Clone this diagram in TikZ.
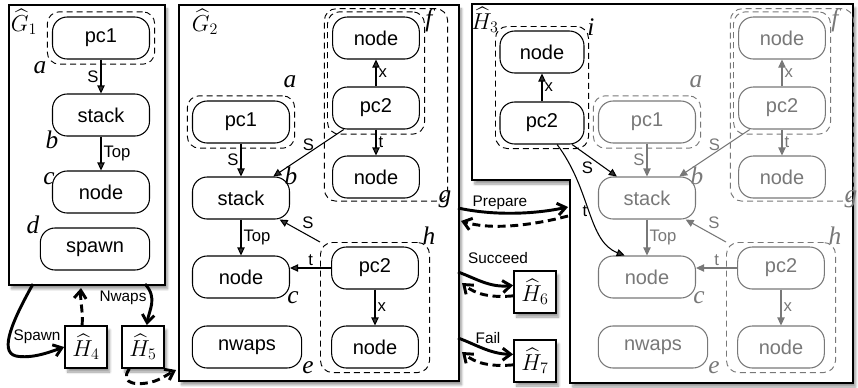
\documentclass[tikz,border=0pt]{standalone}
\usepackage{amsmath,amssymb}
\usepackage[no-math]{fontspec}
\newfontfamily\arialfont{Liberation Sans}
\newfontfamily\timesfont{Liberation Serif}
\usetikzlibrary{positioning,arrows.meta,calc,fit,shadows.blur}
\definecolor{ghost}{gray}{0.47}

\tikzset{
  obj/.style={draw, line width=0.8pt, rounded corners=11pt, minimum width=72.75pt,
    minimum height=31.5pt, inner sep=0pt, font=\arialfont\fontsize{15}{15}\selectfont},
  slim/.style={obj, minimum width=65pt},
  wide/.style={obj, minimum width=82pt},
  grp/.style={draw, dash pattern=on 4.5pt off 3pt, line width=0.7pt, rounded corners=9pt, inner sep=3.5pt},
  lbl/.style={font=\arialfont\fontsize{12.5}{12.5}\selectfont, inner sep=1.5pt},
  tag/.style={font=\timesfont\itshape\fontsize{19}{19}\selectfont, inner sep=0pt},
  gname/.style={font=\fontsize{17}{17}\selectfont, inner sep=0pt},
  panel/.style={draw, line width=1.3pt, fill=white,
    blur shadow={shadow xshift=2pt, shadow yshift=-3pt, shadow blur steps=8, shadow opacity=40}},
  hbox/.style={panel, minimum size=31.5pt, inner sep=0pt, font=\fontsize{17}{17}\selectfont},
  move/.style={line width=2.2pt, -{Straight Barb[length=6pt,width=9pt]}},
  back/.style={move, dash pattern=on 6pt off 3.5pt},
  trans/.style={font=\arialfont\fontsize{11.5}{11.5}\selectfont, inner sep=1pt},
}

% body of the second graph, drawn twice
\newcommand{\stackgraph}{%
  \node[obj] (pc1) at (241,122) {pc1};
  \node[obj] (stack) at (241,198) {stack};
  \node[obj] (nodeC) at (241,277) {node};
  \node[wide] (nwaps) at (247,347) {nwaps};
  \node[slim] (nodeF) at (376,38) {node};
  \node[slim] (pc2F) at (376,108) {pc2};
  \node[slim] (nodeG) at (376,177) {node};
  \node[slim] (pc2H) at (375,268) {pc2};
  \node[slim] (nodeH) at (375,347) {node};
  \node[grp, fit=(pc1)] (grpA) {};
  \node[grp, fit=(nodeF)(pc2F)] (grpF) {};
  \node[grp, fit={(grpF.north west)(nodeG.south)(445,196)}, inner sep=2pt] (grpG) {};
  \node[grp, fit=(pc2H)(nodeH), inner xsep=8pt, inner ysep=3pt] (grpH) {};
  \node[tag] (tagA) at (290,82) {a};
  \node[tag] (tagB) at (291,176) {b};
  \node[tag] (tagC) at (293,298) {c};
  \node[tag] (tagE) at (308,368) {e};
  \node[tag] (tagF) at (429,20) {f};
  \node[tag] (tagG) at (445,199) {g};
  \node[tag] (tagH) at (429,236) {h};
  \path[->]
  (pc1) edge node[lbl,left] {S} (stack)
  (stack) edge node[lbl,right] {Top} (nodeC)
  (pc2F) edge node[lbl,right] {x} (nodeF)
         edge node[lbl,right] {t} (nodeG)
         edge node[lbl,above] {S} (stack)
  (grpH.north west) edge node[lbl,above right] {S} (stack)
  (pc2H.west) edge node[lbl,above] {t} (pc2H.west -| nodeC.east)
  (pc2H) edge node[lbl,right] {x} (nodeH);
}

\begin{document}
\begin{tikzpicture}[x=0.75pt, y=-0.75pt, >={Triangle[length=6pt,width=5.5pt]}, line width=0.8pt]
\useasboundingbox (0,0) rectangle (858,387);

% panels
\node[panel, minimum width=117pt, minimum height=210pt, anchor=north west] (G1) at (8,4) {};
\node[panel, minimum width=210pt, minimum height=282pt, anchor=north west] (G2) at (178,4) {};
\draw[panel] (472,4) -- (853,4) -- (853,383) -- (570,383) -- (570,180) -- (472,180) -- cycle;

% first graph
\node[gname] (g1name) at (24,22) {$\widehat{G}_1$};
\node[obj] (g1pc) at (101,38) {pc1};
\node[obj] (g1stack) at (101,115) {stack};
\node[obj] (g1node) at (101,192) {node};
\node[wide] (g1spawn) at (95,249) {spawn};
\node[grp, fit=(g1pc)] (g1grp) {};
\node[tag] (g1a) at (40,68) {a};
\node[tag] (g1b) at (52,140) {b};
\node[tag] (g1c) at (49,179) {c};
\node[tag] (g1d) at (33,225) {d};
\path[->]
(g1pc) edge node[lbl,left] {S} (g1stack)
(g1stack) edge node[lbl,right] {Top} (g1node);

% second graph
\node[gname] (g2name) at (205,22) {$\widehat{G}_2$};
\stackgraph

% third graph, with the second one greyed behind it
\begin{scope}[shift={(406,0)}, name prefix=h-, color=ghost]
  \stackgraph
\end{scope}
\node[gname] (h3name) at (485,20) {$\widehat{H}_3$};
\node[slim, minimum width=63pt] (h3node) at (542,52) {node};
\node[slim, minimum width=63pt] (h3pc) at (542,123) {pc2};
\node[grp, fit=(h3node)(h3pc), inner sep=3pt] (grpI) {};
\node[tag] (tagI) at (591,27) {i};
\path[->]
(h3pc) edge node[lbl,right] {x} (h3node)
       edge node[lbl,below left=-1pt] {S} (h-stack);
\draw[->] (h3pc.-55) .. controls +(34,45) and +(-37,-14) .. (h-nodeC.136)
  node[lbl, pos=0.5, left] {t};

% small result boxes
\node[hbox] (H4) at (86,347) {$\widehat{H}_4$};
\node[hbox] (H5) at (143,347) {$\widehat{H}_5$};
\node[hbox] (H6) at (535,292) {$\widehat{H}_6$};
\node[hbox] (H7) at (535,361) {$\widehat{H}_7$};

% transitions
\coordinate (spawnOut) at (33,284);
\coordinate (spawnHome) at (81,288);
\coordinate (nwapsOut) at (145,284);
\coordinate (nwapsHome) at (176,370);
\coordinate (prepOut) at (458,208);
\coordinate (prepIn) at (568,207);
\coordinate (prepBack) at (568,216);
\coordinate (prepHome) at (461,221);
\coordinate (succOut) at (458,272);
\coordinate (succHome) at (462,283);
\coordinate (failOut) at (458,338);
\coordinate (failHome) at (462,352);

\draw[move] (spawnOut) .. controls (14,318) and (-2,352) .. (16,356)
  .. controls (32,359) and (50,352) .. (H4.west);
\node[trans] (spawnLbl) at (37,337) {Spawn};
\draw[back] (H4.100) .. controls +(1,-14) and +(-1,12) .. (spawnHome);
\draw[move] (nwapsOut) .. controls (158,298) and (149,310) .. (H5.80);
\node[trans] (nwapsLbl) at (123,298) {Nwaps};
\draw[back] (H5.238) .. controls (118,385) and (140,386) .. (155,381)
  .. controls (163,378) and (170,373) .. (nwapsHome);

\draw[move] (prepOut) .. controls (495,216) and (535,214) .. (prepIn);
\node[trans] (prepLbl) at (500,203) {Prepare};
\draw[back] (prepBack) .. controls (530,226) and (490,230) .. (prepHome);
\draw[move] (succOut) .. controls (475,278) and (490,288) .. (H6.163);
\node[trans] (succLbl) at (498,258) {Succeed};
\draw[back] (H6.190) .. controls (490,298) and (475,294) .. (succHome);
\draw[move] (failOut) .. controls (475,344) and (490,354) .. (H7.163);
\node[trans] (failLbl) at (488,338) {Fail};
\draw[back] (H7.190) .. controls (490,367) and (475,363) .. (failHome);
\end{tikzpicture}
\end{document}
